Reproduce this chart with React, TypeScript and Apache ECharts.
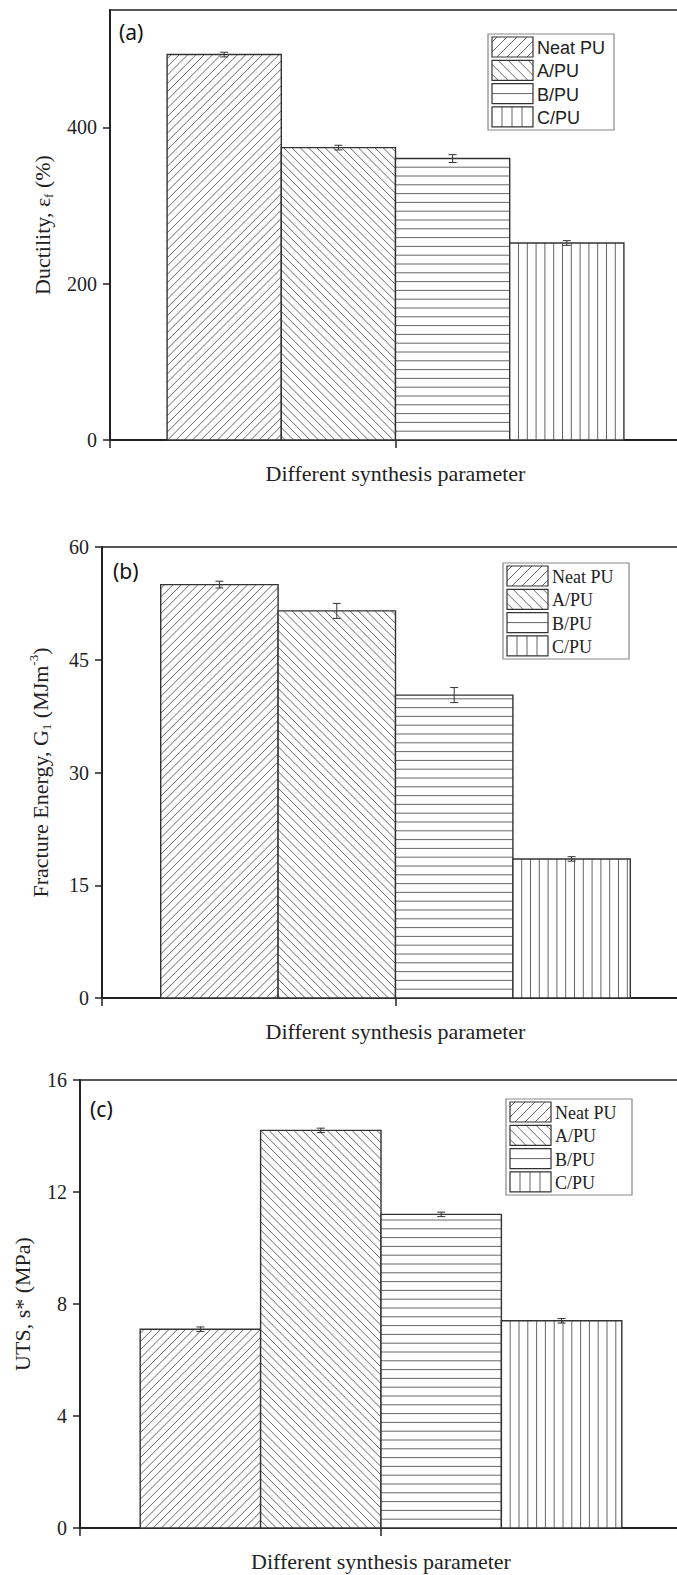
import React, { useEffect, useRef } from 'react';
import * as echarts from 'echarts';

// ---------------- data ----------------
const categories = ['Neat PU', 'A/PU', 'B/PU', 'C/PU'];
const ductility = [493, 374, 360, 252];
const ductilityErr = [3, 3, 5, 3];
const fractureEnergy = [55.0, 51.5, 40.3, 18.5];
const fractureEnergyErr = [0.45, 1.0, 1.0, 0.3];
const uts = [7.1, 14.2, 11.2, 7.4];
const utsErr = [0.08, 0.08, 0.08, 0.08];
const ductilityTicks = [0, 200, 400];
const fractureTicks = [0, 15, 30, 45, 60];
const utsTicks = [0, 4, 8, 12, 16];
const xAxisTitle = 'Different synthesis parameter';
const panelLabels = ['(a)', '(b)', '(c)'];
const yTitles = [
  '{n|Ductility, ε}{s|f}{n| (%)}',
  '{n|Fracture Energy, G}{s|1}{n| (MJm}{p|-3}{n|)}',
  '{n|UTS, s* (MPa)}',
];

const PATTERNS = ['slash', 'backslash', 'horizontal', 'vertical'];
const SERIF = '"Liberation Serif", "Times New Roman", serif';
const SANS = '"Liberation Sans", Arial, sans-serif';
const INK = '#222';
const HATCH = '#555';
const CHART_W = 695; // wider than the page; the right frame is cut off like in the reference

function hatch(x0: number, y0: number, x1: number, y1: number, kind: string, d: number) {
  const segs: number[][] = [];
  if (kind === 'slash') {
    for (let c = x0 + y0 + d / 2; c < x1 + y1; c += d) {
      const xa = Math.max(x0, c - y1);
      const xb = Math.min(x1, c - y0);
      if (xb - xa > 0.5) segs.push([xa, c - xa, xb, c - xb]);
    }
  } else if (kind === 'backslash') {
    for (let c = y0 - x1 + d / 2; c < y1 - x0; c += d) {
      const xa = Math.max(x0, y0 - c);
      const xb = Math.min(x1, y1 - c);
      if (xb - xa > 0.5) segs.push([xa, xa + c, xb, xb + c]);
    }
  } else if (kind === 'horizontal') {
    for (let y = y1 - d; y > y0 + 1; y -= d) segs.push([x0, y, x1, y]);
  } else {
    for (let x = x0 + d; x < x1 - 1; x += d) segs.push([x, y0, x, y1]);
  }
  return segs;
}

function hatchElements(x0: number, y0: number, x1: number, y1: number, kind: string, d: number, z?: number) {
  return hatch(x0, y0, x1, y1, kind, d).map((s) => ({
    type: 'line',
    z,
    shape: { x1: s[0], y1: s[1], x2: s[2], y2: s[3] },
    style: { stroke: HATCH, lineWidth: 0.9 },
    silent: true,
  }));
}

const panels = [
  {
    values: ductility, errs: ductilityErr, max: 550, interval: 50, ticks: ductilityTicks,
    grid: { left: 110, right: CHART_W - 681, top: 10, height: 430 }, nameGap: 55,
    legend: { x: 488, y: 34, font: SANS, size: 18 }, label: { x: 119, y: 32 },
  },
  {
    values: fractureEnergy, errs: fractureEnergyErr, max: 60, interval: 15, ticks: fractureTicks,
    grid: { left: 102, right: CHART_W - 689, top: 547, height: 451 }, nameGap: 49,
    legend: { x: 503, y: 563, font: SERIF, size: 18 }, label: { x: 113, y: 571 },
  },
  {
    values: uts, errs: utsErr, max: 16, interval: 4, ticks: utsTicks,
    grid: { left: 80, right: CHART_W - 682, top: 1080, height: 448 }, nameGap: 45,
    legend: { x: 506, y: 1099, font: SERIF, size: 18 }, label: { x: 90, y: 1109 },
  },
];

function legendElements(lx: number, ly: number, font: string, size: number) {
  const els: any[] = [];
  const pitch = 23.3;
  els.push({
    type: 'rect', z: 100,
    shape: { x: lx, y: ly, width: 126, height: 96 },
    style: { fill: '#fff', stroke: '#888', lineWidth: 1.2 },
  });
  categories.forEach((name, i) => {
    const sx = lx + 4;
    const sy = ly + 3 + i * pitch;
    const w = 41;
    const h = 20;
    els.push({ type: 'rect', z: 101, shape: { x: sx, y: sy, width: w, height: h }, style: { fill: '#fff', stroke: 'none' } });
    els.push(...hatchElements(sx, sy, sx + w, sy + h, PATTERNS[i], 10, 102));
    els.push({ type: 'rect', z: 103, shape: { x: sx, y: sy, width: w, height: h }, style: { fill: 'none', stroke: '#333', lineWidth: 1.2 } });
    els.push({
      type: 'text', z: 103, x: lx + 49, y: sy + h / 2 + 1,
      style: { text: name, fontFamily: font, fontSize: size, fill: INK, align: 'left', verticalAlign: 'middle' },
    });
  });
  return els;
}

function buildOption() {
  const grids: any[] = [];
  const xAxes: any[] = [];
  const yAxes: any[] = [];
  const series: any[] = [];
  const graphics: any[] = [];

  panels.forEach((p, gi) => {
    grids.push({ ...p.grid, show: true, borderColor: INK, borderWidth: 1.5, backgroundColor: 'transparent' });
    xAxes.push({
      gridIndex: gi, type: 'value', min: 0, max: 5, interval: 2.5,
      axisLine: { show: true, onZero: false, lineStyle: { color: INK, width: 2 } },
      axisTick: { show: true, length: 8, lineStyle: { color: INK, width: 1.5 } },
      axisLabel: { show: false },
      splitLine: { show: false },
      name: xAxisTitle, nameLocation: 'middle', nameGap: 22,
      nameTextStyle: { fontFamily: SERIF, fontSize: 22, color: INK },
    });
    yAxes.push({
      gridIndex: gi, type: 'value', min: 0, max: p.max, interval: p.interval,
      axisLine: { show: true, lineStyle: { color: INK, width: 2 } },
      axisTick: { show: true, length: 7, customValues: p.ticks, lineStyle: { color: INK, width: 1.5 } },
      axisLabel: { customValues: p.ticks, margin: 13, fontFamily: SERIF, fontSize: 20, color: INK },
      splitLine: { show: false },
      name: yTitles[gi], nameLocation: 'middle', nameRotate: 90, nameGap: p.nameGap,
      nameTextStyle: {
        fontFamily: SERIF, fontSize: 22, color: INK,
        rich: {
          n: { fontFamily: SERIF, fontSize: 22, color: INK, lineHeight: 26 },
          s: { fontFamily: SERIF, fontSize: 13, color: INK, lineHeight: 12, verticalAlign: 'bottom' },
          p: { fontFamily: SERIF, fontSize: 13, color: INK, lineHeight: 12, verticalAlign: 'top' },
        },
      },
    });
    series.push({
      type: 'custom',
      xAxisIndex: gi,
      yAxisIndex: gi,
      data: p.values.map((v, i) => [i + 1, v, p.errs[i], i]),
      encode: { x: 0, y: 1 },
      renderItem: (params: any, api: any) => {
        const xv = api.value(0);
        const v = api.value(1);
        const e = api.value(2);
        const kind = PATTERNS[api.value(3)];
        const top = api.coord([xv, v]);
        const base = api.coord([xv, 0]);
        const w = api.size([1, 0])[0];
        const x0 = top[0] - w / 2;
        const x1 = top[0] + w / 2;
        const y0 = top[1];
        const y1 = base[1];
        const hi = api.coord([xv, v + e]);
        const lo = api.coord([xv, v - e]);
        const d = kind === 'slash' || kind === 'backslash' ? 8.3 : 8.8;
        const children: any[] = [
          { type: 'rect', shape: { x: x0, y: y0, width: x1 - x0, height: y1 - y0 }, style: { fill: '#fff' } },
          ...hatchElements(x0, y0, x1, y1, kind, d),
          { type: 'rect', shape: { x: x0, y: y0, width: x1 - x0, height: y1 - y0 }, style: { fill: 'none', stroke: '#333', lineWidth: 1.4 } },
          { type: 'line', shape: { x1: top[0], y1: hi[1], x2: top[0], y2: lo[1] }, style: { stroke: '#333', lineWidth: 1 } },
          { type: 'line', shape: { x1: top[0] - 4, y1: hi[1], x2: top[0] + 4, y2: hi[1] }, style: { stroke: '#333', lineWidth: 1 } },
          { type: 'line', shape: { x1: top[0] - 4, y1: lo[1], x2: top[0] + 4, y2: lo[1] }, style: { stroke: '#333', lineWidth: 1 } },
        ];
        return { type: 'group', children };
      },
    });
    graphics.push(...legendElements(p.legend.x, p.legend.y, p.legend.font, p.legend.size));
    graphics.push({
      type: 'text', z: 100, x: p.label.x, y: p.label.y,
      style: { text: panelLabels[gi], fontFamily: '"Noto Sans", "Open Sans", sans-serif', fontSize: 21, fill: '#111', align: 'left', verticalAlign: 'middle' },
    });
  });

  return {
    animation: false,
    backgroundColor: '#fff',
    grid: grids,
    xAxis: xAxes,
    yAxis: yAxes,
    series,
    graphic: { elements: graphics },
  };
}

export default function App() {
  const ref = useRef<HTMLDivElement>(null);
  useEffect(() => {
    if (!ref.current) return;
    const chart = echarts.init(ref.current, undefined, { renderer: 'svg' });
    chart.setOption(buildOption() as any);
    return () => chart.dispose();
  }, []);
  return (
    <div
      style={{ position: 'absolute', left: 0, top: 0, width: 677, height: 1575, overflow: 'hidden', background: '#fff' }}
    >
      <div ref={ref} style={{ width: CHART_W, height: 1575 }} />
    </div>
  );
}
